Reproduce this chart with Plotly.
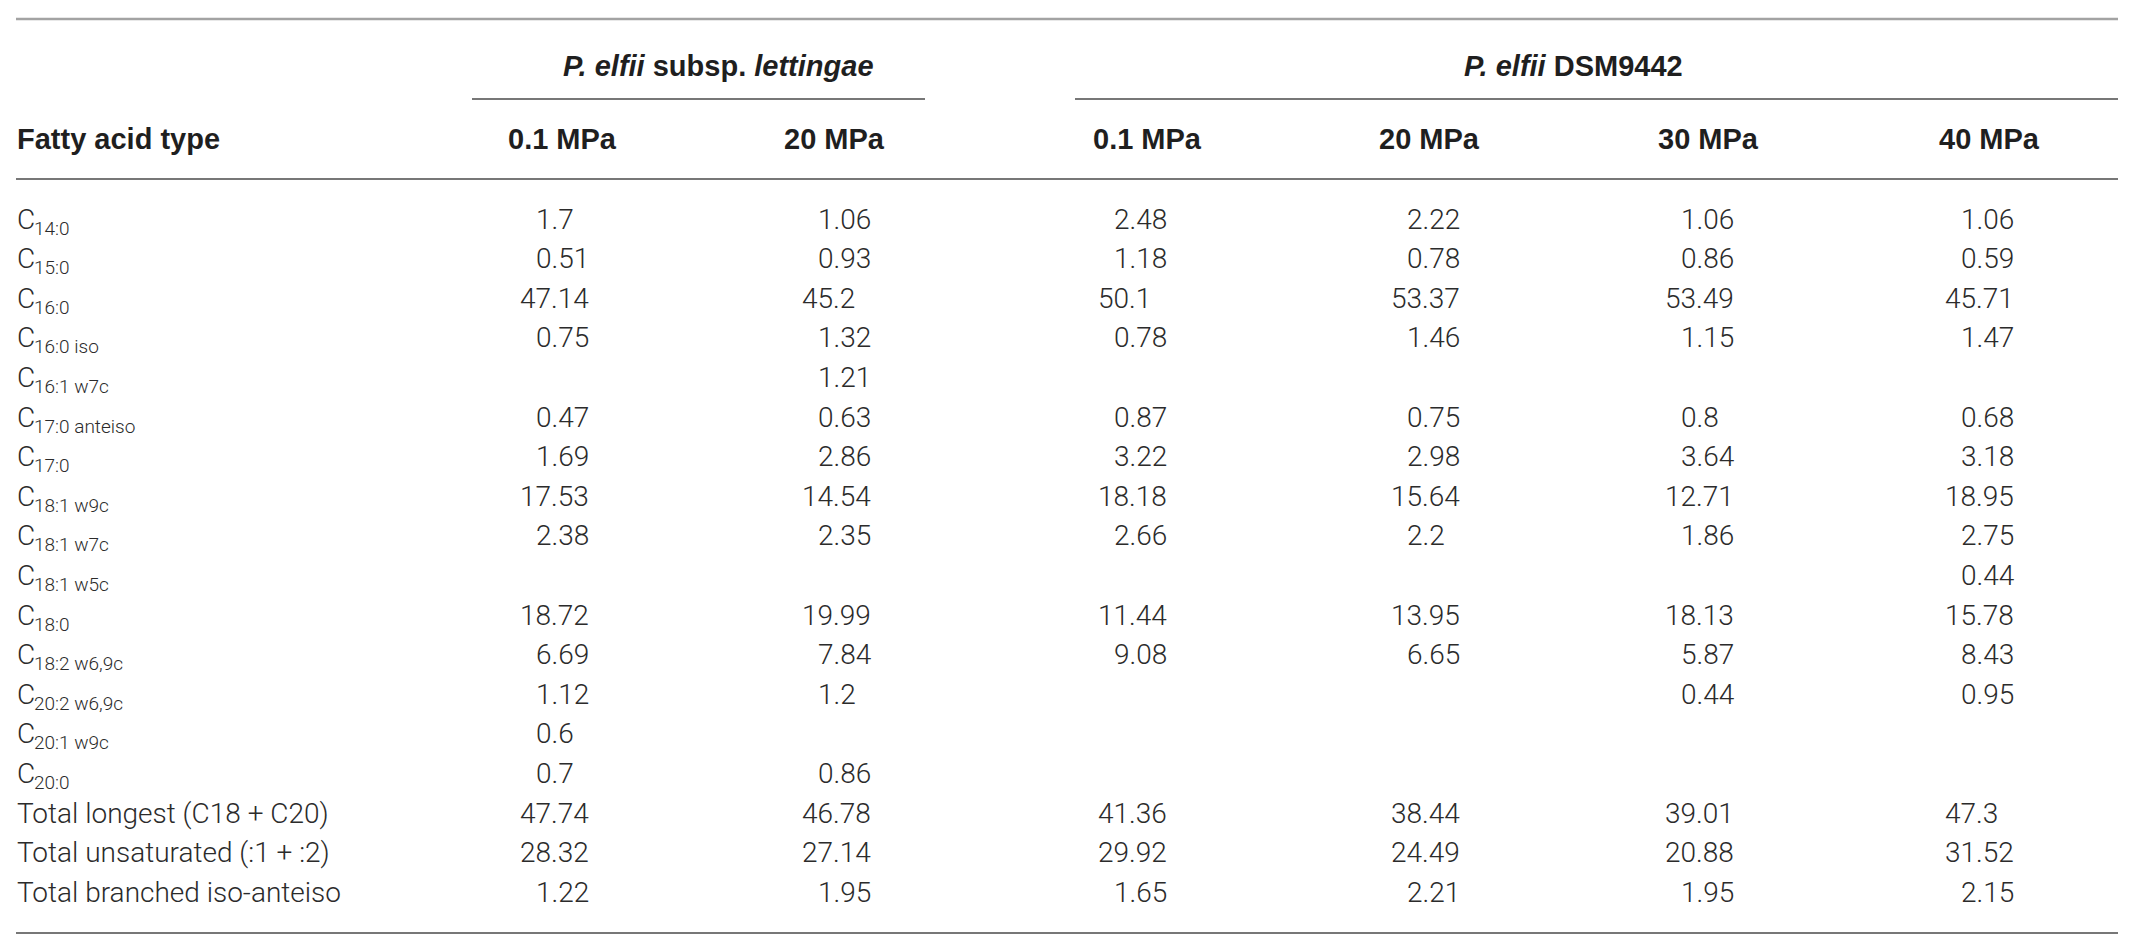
import plotly.graph_objects as go

### datos de la tabla
acidos = ["C", "C", "C", "C", "C", "C", "C", "C", "C", "C", "C", "C", "C", "C", "C",
          "Total longest (C18 + C20)", "Total unsaturated (:1 + :2)", "Total branched iso-anteiso"]
subindices = ["14:0", "15:0", "16:0", "16:0 iso", "16:1 w7c", "17:0 anteiso", "17:0", "18:1 w9c",
              "18:1 w7c", "18:1 w5c", "18:0", "18:2 w6,9c", "20:2 w6,9c", "20:1 w9c", "20:0",
              "", "", ""]

cepas = ["<i>P. elfii</i> subsp. <i>lettingae</i>", "<i>P. elfii</i> DSM9442"]
presiones = ["0.1 MPa", "20 MPa", "0.1 MPa", "20 MPa", "30 MPa", "40 MPa"]

lett_01 = [1.7, 0.51, 47.14, 0.75, None, 0.47, 1.69, 17.53, 2.38, None, 18.72, 6.69, 1.12, 0.6, 0.7, 47.74, 28.32, 1.22]
lett_20 = [1.06, 0.93, 45.2, 1.32, 1.21, 0.63, 2.86, 14.54, 2.35, None, 19.99, 7.84, 1.2, None, 0.86, 46.78, 27.14, 1.95]
dsm_01 = [2.48, 1.18, 50.1, 0.78, None, 0.87, 3.22, 18.18, 2.66, None, 11.44, 9.08, None, None, None, 41.36, 29.92, 1.65]
dsm_20 = [2.22, 0.78, 53.37, 1.46, None, 0.75, 2.98, 15.64, 2.2, None, 13.95, 6.65, None, None, None, 38.44, 24.49, 2.21]
dsm_30 = [1.06, 0.86, 53.49, 1.15, None, 0.8, 3.64, 12.71, 1.86, None, 18.13, 5.87, 0.44, None, None, 39.01, 20.88, 1.95]
dsm_40 = [1.06, 0.59, 45.71, 1.47, None, 0.68, 3.18, 18.95, 2.75, 0.44, 15.78, 8.43, 0.95, None, None, 47.3, 31.52, 2.15]

columnas = [lett_01, lett_20, dsm_01, dsm_20, dsm_30, dsm_40]

### posiciones (px de pantalla)
x_izq, x_der = 16, 2118
x_subind = 33
x_head = [507, 783, 1092, 1378, 1657, 1938]
x_val = [519, 801, 1097, 1390, 1664, 1944]
ancho_dig = 16
x_cepa = [718, 1573]
lineas_cepa = [(472, 925), (1075, 2118)]
y_top, y_cepa, y_sub, y_head, y_rule, y_bottom = 19, 66, 99, 139, 179, 933
y0, dy = 219, 39.6

fuente = dict(family="Roboto", size=28, color="#2b2b2b", weight=300)
fuente_sub = dict(family="Roboto", size=19, color="#2b2b2b", weight=300)
fuente_b = dict(family="Liberation Sans", size=29, color="#1f1f1f", weight="bold")

anots = []
def txt(x, y, s, font, anchor="left"):
    anots.append(dict(x=x, y=y, xref="x", yref="y", text=s, showarrow=False,
                      xanchor=anchor, yanchor="middle", font=font, borderpad=0))

### encabezados
for i, c in enumerate(cepas):
    txt(x_cepa[i], y_cepa, "<b>" + c + "</b>", fuente_b, "center")
txt(x_izq, y_head, "<b>Fatty acid type</b>", fuente_b)
for i, p in enumerate(presiones):
    txt(x_head[i], y_head, "<b>" + p + "</b>", fuente_b)

### filas
for r, nombre in enumerate(acidos):
    y = y0 + r * dy
    txt(x_izq, y, nombre, fuente)
    if subindices[r]:
        txt(x_subind, y + 9, subindices[r], fuente_sub)
    for c, col in enumerate(columnas):
        v = col[r]
        if v is None:
            continue
        x = x_val[c] + (ancho_dig if v < 10 else 0)
        txt(x, y, str(v), fuente)

### lineas
shapes = [
    dict(type="line", x0=x_izq, x1=x_der, y0=y_top, y1=y_top, line=dict(color="#a3a3a3", width=2.5)),
    dict(type="line", x0=x_izq, x1=x_der, y0=y_rule, y1=y_rule, line=dict(color="#777777", width=2)),
    dict(type="line", x0=x_izq, x1=x_der, y0=y_bottom, y1=y_bottom, line=dict(color="#777777", width=2)),
]
for a, b in lineas_cepa:
    shapes.append(dict(type="line", x0=a, x1=b, y0=y_sub, y1=y_sub, line=dict(color="#777777", width=2)))

fig = go.Figure(go.Scatter(x=[], y=[]))
fig.update_layout(width=2126, height=936, margin=dict(l=0, r=0, t=0, b=0),
                  paper_bgcolor="white", plot_bgcolor="white", showlegend=False,
                  annotations=anots, shapes=shapes)
fig.update_xaxes(range=[8, 2134], visible=False, fixedrange=True)
fig.update_yaxes(range=[944, 8], visible=False, fixedrange=True)
fig.write_html("out.html")
